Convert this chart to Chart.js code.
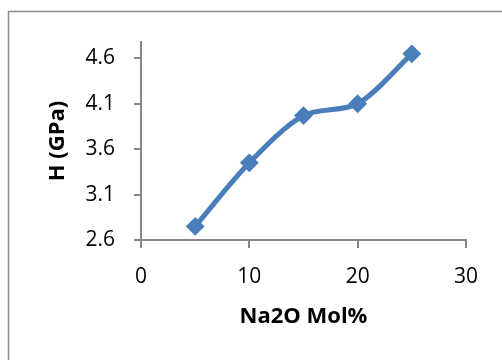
<!DOCTYPE html>
<html>
<head>
<meta charset="utf-8">
<script src="https://cdn.jsdelivr.net/npm/chart.js@4.4.1/dist/chart.umd.min.js"></script>
<style>
    html, body { margin: 0; padding: 0; background: #ffffff; }
    #wrap { width: 502px; height: 360px; }
</style>
</head>
<body>
<div id="wrap"><canvas id="dureza-chart" width="502" height="360"></canvas></div>
<script>
// Dados: dureza (GPa) por teor de Na2O (mol%)
const na2oMol = [5, 10, 15, 20, 25];
const durezaGPa = [2.75, 3.45, 3.97, 4.1, 4.65];
const yTicks = [2.6, 3.1, 3.6, 4.1, 4.6];
const xTicks = [0, 10, 20, 30];

const azul = '#4a7ebb';
const cinzaEixo = '#868686';

// Moldura cinza em volta do gráfico
const moldura = {
    id: 'moldura',
    beforeDraw(chart) {
        const ctx = chart.ctx;
        ctx.save();
        ctx.fillStyle = '#ffffff';
        ctx.fillRect(0, 0, chart.width, chart.height);
        ctx.strokeStyle = '#8c8c8c';
        ctx.lineWidth = 1.5;
        ctx.strokeRect(8.5, 11.5, chart.width + 20, chart.height + 20);
        ctx.restore();
    }
};

new Chart(document.getElementById('dureza-chart'), {
    type: 'scatter',
    data: {
        datasets: [{
            label: 'H (GPa)',
            data: na2oMol.map((x, i) => ({ x: x, y: durezaGPa[i] })),
            showLine: true,
            tension: 0.3,
            borderColor: azul,
            backgroundColor: azul,
            borderWidth: 5,
            pointStyle: 'rectRot',
            pointRadius: 8,
            pointBorderWidth: 2,
            pointBorderColor: azul,
            pointBackgroundColor: azul
        }]
    },
    options: {
        responsive: false,
        animation: false,
        layout: { padding: { left: 45, right: 36, top: 42, bottom: 30 } },
        plugins: {
            legend: { display: false },
            tooltip: { enabled: false }
        },
        scales: {
            x: {
                type: 'linear',
                min: 0,
                max: 30,
                afterFit: scale => { scale.height = 90; },
                afterBuildTicks: scale => { scale.ticks = xTicks.map(v => ({ value: v })); },
                border: { color: cinzaEixo, width: 2 },
                grid: { drawOnChartArea: false, color: cinzaEixo, lineWidth: 2, tickLength: 8 },
                ticks: { color: '#000', padding: 16, font: { family: 'Open Sans', size: 21 } },
                title: {
                    display: true,
                    text: 'Na2O Mol%',
                    color: '#000',
                    padding: 0,
                    font: { family: 'Open Sans', size: 22, weight: 'bold' }
                }
            },
            y: {
                min: 2.6,
                max: 4.78,
                afterFit: scale => { scale.width = 96; },
                afterBuildTicks: scale => { scale.ticks = yTicks.map(v => ({ value: v })); },
                border: { color: cinzaEixo, width: 2 },
                grid: { drawOnChartArea: false, color: cinzaEixo, lineWidth: 2, tickLength: 7 },
                ticks: { color: '#000', padding: 19, font: { family: 'Open Sans', size: 21 } },
                title: {
                    display: true,
                    text: 'H (GPa)',
                    color: '#000',
                    padding: 0,
                    font: { family: 'Open Sans', size: 22, weight: 'bold' }
                }
            }
        }
    },
    plugins: [moldura]
});
</script>
</body>
</html>
